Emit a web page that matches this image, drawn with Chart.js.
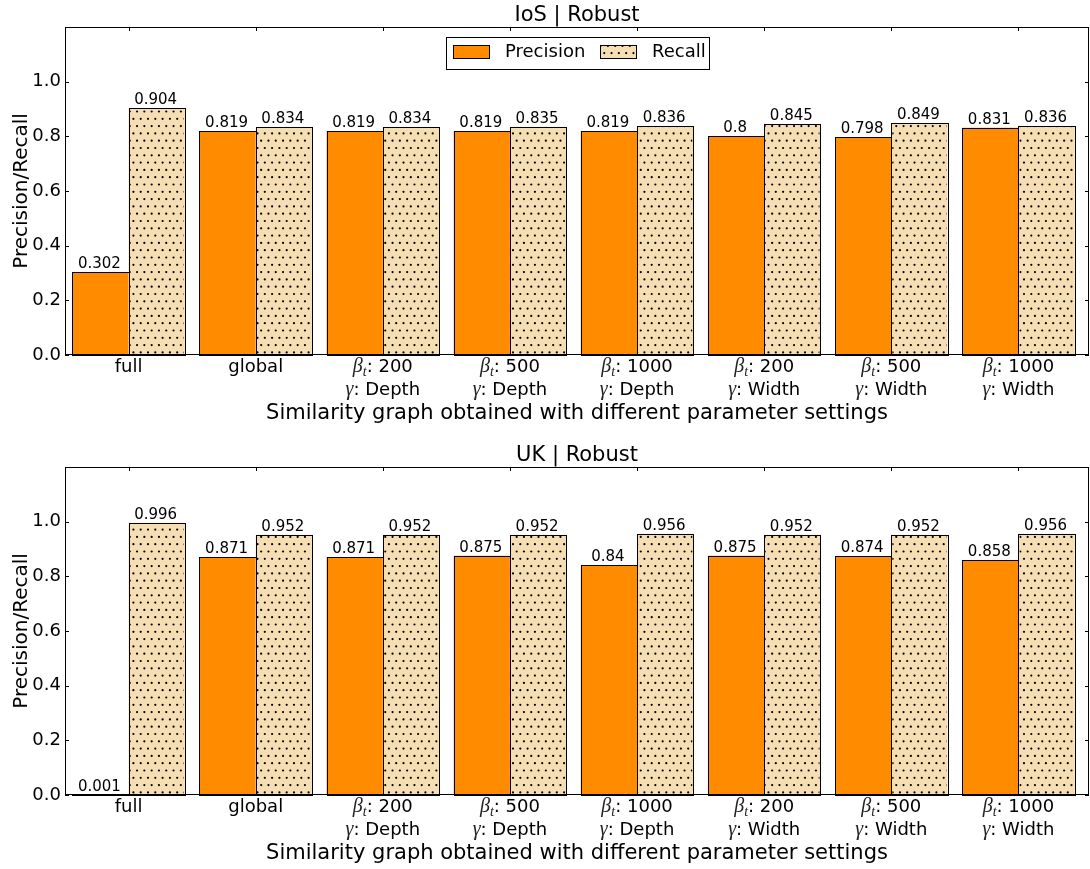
<!DOCTYPE html>
<html>
<head>
<meta charset="utf-8">
<script src="https://cdn.jsdelivr.net/npm/chart.js@4.4.1/dist/chart.umd.min.js"></script>
<style>
  html, body { margin: 0; padding: 0; background: #ffffff; }
  .panel { position: absolute; left: 0; width: 1090px; }
  canvas { display: block; }
</style>
</head>
<body>
<div class="panel" style="top:0px;height:440px"><canvas id="iosChart" width="1090" height="440"></canvas></div>
<div class="panel" style="top:440px;height:429px"><canvas id="ukChart" width="1090" height="429"></canvas></div>
<script>
// ---- data ----
const categories = [
  'full', 'global',
  'β_t: 200|γ: Depth', 'β_t: 500|γ: Depth', 'β_t: 1000|γ: Depth',
  'β_t: 200|γ: Width', 'β_t: 500|γ: Width', 'β_t: 1000|γ: Width'
];
const iosPrecision = [0.302, 0.819, 0.819, 0.819, 0.819, 0.8, 0.798, 0.831];
const iosRecall    = [0.904, 0.834, 0.834, 0.835, 0.836, 0.845, 0.849, 0.836];
const ukPrecision  = [0.001, 0.871, 0.871, 0.875, 0.84, 0.875, 0.874, 0.858];
const ukRecall     = [0.996, 0.952, 0.952, 0.952, 0.956, 0.952, 0.952, 0.956];
const yTicks = [0.0, 0.2, 0.4, 0.6, 0.8, 1.0];
const seriesNames = ['Precision', 'Recall'];
const panelTitles = ['IoS | Robust', 'UK | Robust'];
const xAxisTitle = 'Similarity graph obtained with different parameter settings';
const yAxisTitle = 'Precision/Recall';

// ---- styles ----
const SANS = '"DejaVu Sans", sans-serif';
const MATH = '"Liberation Serif", "DejaVu Serif", serif';
const PRECISION_COLOR = '#FF8C00';
const RECALL_COLOR = '#F5DEB3';
const DOT_STEP = 7.3;
const FRAME_EXTRA_RIGHT = 7;   // the frame extends a little past the last group

Chart.defaults.font.family = SANS;
Chart.defaults.color = '#000';

// staggered dot hatch, clipped to a rectangle
function drawDots(ctx, x0, y0, x1, y1) {
  ctx.save();
  ctx.beginPath();
  ctx.rect(x0, y0, x1 - x0, y1 - y0);
  ctx.clip();
  ctx.fillStyle = '#000';
  const rowStart = Math.floor(y0 / DOT_STEP) - 1;
  const rowEnd = Math.ceil(y1 / DOT_STEP) + 1;
  for (let r = rowStart; r <= rowEnd; r++) {
    const y = r * DOT_STEP + 2;
    const off = (r % 2 === 0) ? 0 : DOT_STEP / 2;
    const cStart = Math.floor(x0 / DOT_STEP) - 1;
    const cEnd = Math.ceil(x1 / DOT_STEP) + 1;
    for (let c = cStart; c <= cEnd; c++) {
      const x = c * DOT_STEP + off + 2;
      ctx.beginPath();
      ctx.arc(x, y, 1.1, 0, Math.PI * 2);
      ctx.fill();
    }
  }
  ctx.restore();
}

// one label line, with italic math symbols (β with subscript t, γ)
function drawLabelLine(ctx, text, cx, baseline) {
  const parts = [];
  if (text.startsWith('β_t')) {
    parts.push({ t: 'β', f: 'italic 20px ' + MATH, dy: 0 });
    parts.push({ t: 't', f: 'italic 14px ' + MATH, dy: 4 });
    parts.push({ t: text.slice(3), f: '18px ' + SANS, dy: 0 });
  } else if (text.startsWith('γ')) {
    parts.push({ t: 'γ', f: 'italic 20px ' + MATH, dy: 0 });
    parts.push({ t: text.slice(1), f: '18px ' + SANS, dy: 0 });
  } else {
    parts.push({ t: text, f: '18px ' + SANS, dy: 0 });
  }
  let total = 0;
  parts.forEach(p => { ctx.font = p.f; p.w = ctx.measureText(p.t).width; total += p.w; });
  let x = cx - total / 2;
  ctx.textAlign = 'left';
  ctx.textBaseline = 'alphabetic';
  parts.forEach(p => {
    ctx.font = p.f;
    ctx.fillStyle = p.f.startsWith('italic') ? '#222' : '#000';
    ctx.fillText(p.t, x, baseline + p.dy);
    x += p.w;
  });
}

const panelPlugin = {
  id: 'panelDecor',
  afterDatasetsDraw(chart) {
    const ctx = chart.ctx;
    // dot hatch on recall bars
    chart.getDatasetMeta(1).data.forEach(bar => {
      const p = bar.getProps(['x', 'y', 'base', 'width'], true);
      drawDots(ctx, p.x - p.width / 2 + 1, p.y + 1, p.x + p.width / 2 - 1, p.base - 1);
    });
    // crisp black outlines on every bar
    ctx.save();
    ctx.strokeStyle = '#000';
    ctx.lineWidth = 1;
    chart.data.datasets.forEach((ds, di) => {
      chart.getDatasetMeta(di).data.forEach(bar => {
        const p = bar.getProps(['x', 'y', 'base', 'width'], true);
        const l = Math.round(p.x - p.width / 2) + 0.5;
        const r = Math.round(p.x + p.width / 2) + 0.5;
        const t = Math.round(p.y) + 0.5;
        const b = Math.round(p.base) + 0.5;
        ctx.strokeRect(l, Math.min(t, b - 1), r - l, Math.max(b - t, 1));
      });
    });
    ctx.restore();
    // value labels above bars
    ctx.save();
    ctx.font = '15px ' + SANS;
    ctx.fillStyle = '#000';
    ctx.textAlign = 'center';
    ctx.textBaseline = 'alphabetic';
    chart.data.datasets.forEach((ds, di) => {
      chart.getDatasetMeta(di).data.forEach((bar, i) => {
        const p = bar.getProps(['x', 'y'], true);
        ctx.fillText(String(ds.data[i]), p.x - 1, p.y - 4);
      });
    });
    ctx.restore();
  },
  afterDraw(chart, args, opts) {
    const ctx = chart.ctx;
    const a = chart.chartArea;
    const xs = chart.scales.x, ys = chart.scales.y;
    const left = a.left, right = a.right + FRAME_EXTRA_RIGHT;
    ctx.save();
    // frame
    ctx.strokeStyle = '#000';
    ctx.lineWidth = 1;
    ctx.strokeRect(left + 0.5, a.top + 0.5, right - left - 1, a.bottom - a.top - 1);
    // inward ticks
    ctx.beginPath();
    yTicks.forEach(v => {
      const y = Math.round(ys.getPixelForValue(v)) + 0.5;
      ctx.moveTo(left, y); ctx.lineTo(left + 4, y);
      ctx.moveTo(right, y); ctx.lineTo(right - 4, y);
    });
    categories.forEach((c, i) => {
      const x = Math.round(xs.getPixelForValue(i)) + 0.5;
      ctx.moveTo(x, a.top); ctx.lineTo(x, a.top + 4);
      ctx.moveTo(x, a.bottom); ctx.lineTo(x, a.bottom - 4);
    });
    ctx.stroke();
    // category labels
    categories.forEach((c, i) => {
      const x = xs.getPixelForValue(i);
      c.split('|').forEach((line, li) => {
        drawLabelLine(ctx, line, x, a.bottom + 17 + li * 23);
      });
    });
    const cx = (left + right) / 2;
    ctx.fillStyle = '#000';
    ctx.textAlign = 'center';
    ctx.textBaseline = 'middle';
    // axis titles
    ctx.font = '21px ' + SANS;
    ctx.fillText(xAxisTitle, cx, a.bottom + 59);
    ctx.font = '20px ' + SANS;
    ctx.save();
    ctx.translate(22, (a.top + a.bottom) / 2);
    ctx.rotate(-Math.PI / 2);
    ctx.fillText(yAxisTitle, 0, 0);
    ctx.restore();
    // panel title
    ctx.font = '21px ' + SANS;
    ctx.fillText(opts.title, cx, a.top - 11);
    // legend
    if (opts.legend) {
      const lx = 446, ly = 37, lw = 263, lh = 32;
      ctx.fillStyle = '#fff';
      ctx.fillRect(lx, ly, lw, lh);
      ctx.strokeStyle = '#000';
      ctx.strokeRect(lx + 0.5, ly + 0.5, lw, lh);
      const sw = [
        { x: 453, color: PRECISION_COLOR, dots: false, tx: 505 },
        { x: 600, color: RECALL_COLOR, dots: true, tx: 652 }
      ];
      sw.forEach((s, i) => {
        ctx.fillStyle = s.color;
        ctx.fillRect(s.x, 45, 36, 13);
        if (s.dots) drawDots(ctx, s.x + 1, 46, s.x + 35, 57);
        ctx.strokeStyle = '#000';
        ctx.strokeRect(s.x + 0.5, 45.5, 36, 13);
        ctx.fillStyle = '#000';
        ctx.font = '18px ' + SANS;
        ctx.textAlign = 'left';
        ctx.textBaseline = 'middle';
        ctx.fillText(seriesNames[i], s.tx, 52);
      });
    }
    ctx.restore();
  }
};

function makePanel(canvasId, title, precision, recall, legend, bottomPad) {
  return new Chart(document.getElementById(canvasId), {
    type: 'bar',
    data: {
      labels: categories,
      datasets: [
        { label: seriesNames[0], data: precision, backgroundColor: PRECISION_COLOR, borderWidth: 0 },
        { label: seriesNames[1], data: recall, backgroundColor: RECALL_COLOR, borderWidth: 0 }
      ]
    },
    options: {
      responsive: false,
      animation: false,
      devicePixelRatio: 1,
      categoryPercentage: 0.885,
      barPercentage: 1.0,
      layout: { padding: { top: 27, right: 1 + FRAME_EXTRA_RIGHT, bottom: bottomPad, left: 0 } },
      plugins: {
        legend: { display: false },
        tooltip: { enabled: false },
        panelDecor: { title: title, legend: legend }
      },
      scales: {
        x: {
          offset: true,
          grid: { display: false, drawTicks: false },
          border: { display: false },
          ticks: { display: false },
          afterFit: s => { s.height = 0; }
        },
        y: {
          min: 0, max: 1.2,
          grid: { display: false, drawTicks: false },
          border: { display: false },
          afterBuildTicks: s => { s.ticks = yTicks.map(v => ({ value: v })); },
          ticks: {
            padding: 4,
            font: { size: 18, family: SANS },
            color: '#000',
            callback: v => Number(v).toFixed(1)
          },
          afterFit: s => { s.width = 65; }
        }
      }
    },
    plugins: [panelPlugin]
  });
}

makePanel('iosChart', panelTitles[0], iosPrecision, iosRecall, true, 85);
makePanel('ukChart', panelTitles[1], ukPrecision, ukRecall, false, 74);
</script>
</body>
</html>
